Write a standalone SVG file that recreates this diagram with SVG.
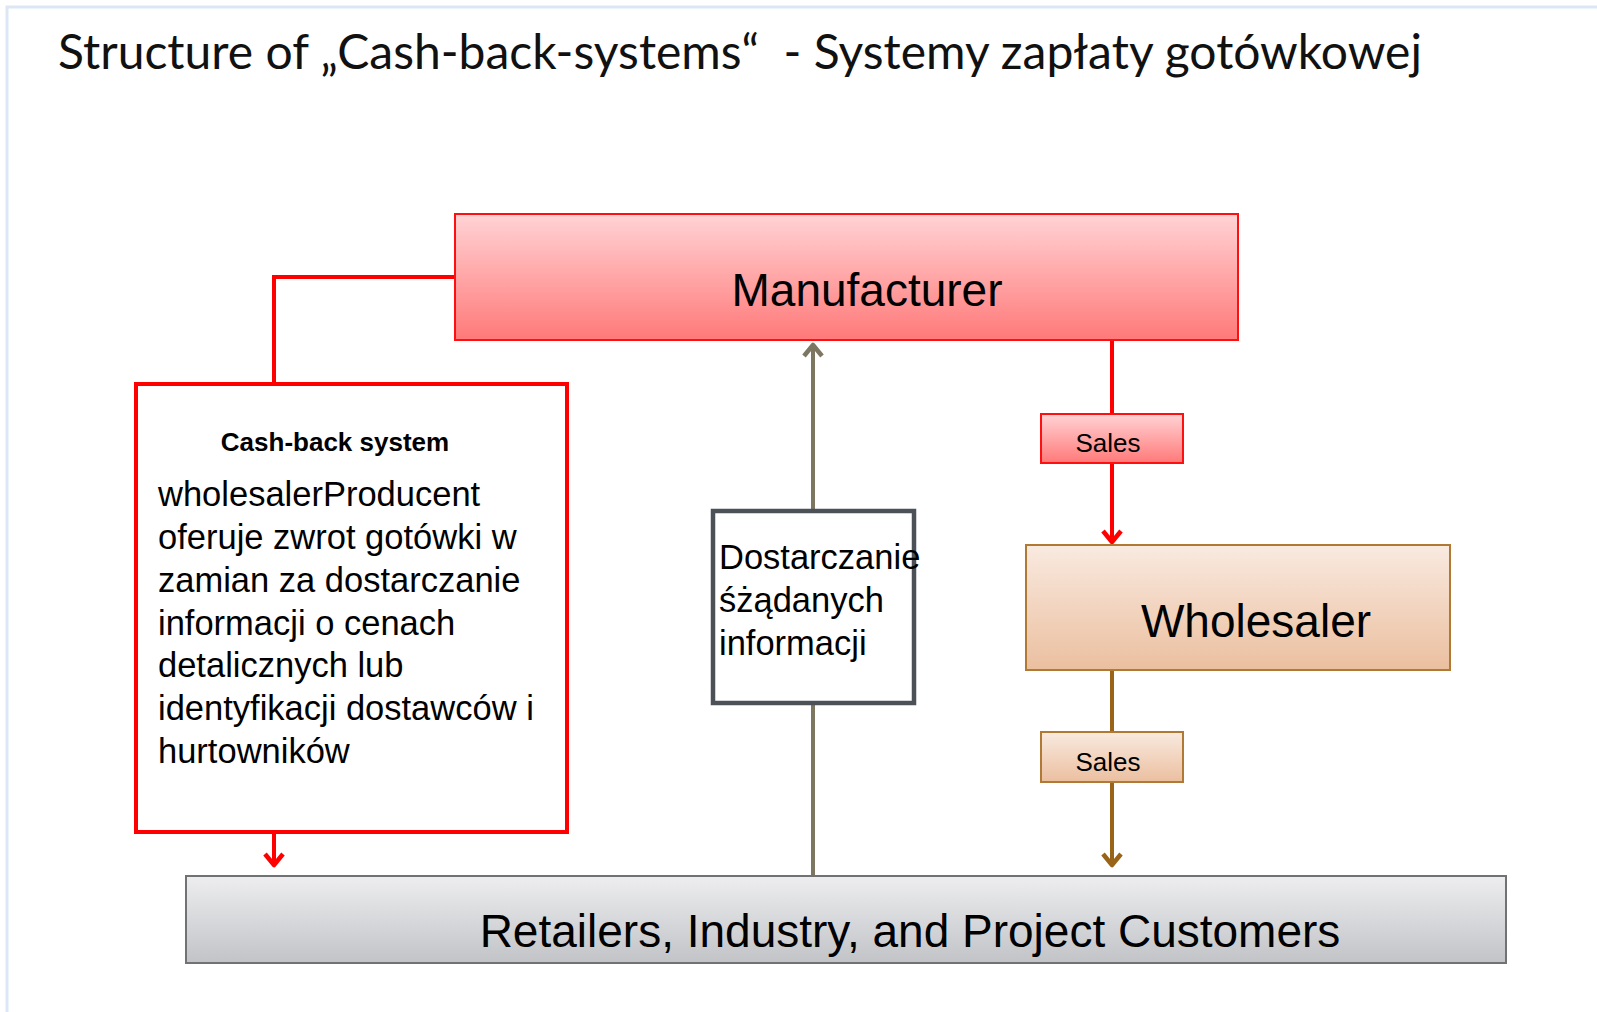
<svg xmlns="http://www.w3.org/2000/svg" width="1597" height="1012" viewBox="0 0 1597 1012">
<style>
.sans{font-family:"Liberation Sans",Arial,sans-serif;fill:#000}
.big{font-size:46px}
.body{font-size:34.5px}
.small{font-size:26px}
.title{font-family:Lato,"Open Sans",sans-serif;font-size:48px;fill:#111}
.red{stroke:#ff0000;stroke-width:4;fill:none}
.brown{stroke:#9a6418;stroke-width:4;fill:none}
.olive{stroke:#7d7660;stroke-width:4;fill:none}
</style>
<defs>
<linearGradient id="gRed" x1="0" y1="0" x2="0" y2="1">
<stop offset="0" stop-color="#ffd3d5"/><stop offset="1" stop-color="#ff7979"/>
</linearGradient>
<linearGradient id="gPeach" x1="0" y1="0" x2="0" y2="1">
<stop offset="0" stop-color="#f9eae0"/><stop offset="1" stop-color="#ebbf9f"/>
</linearGradient>
<linearGradient id="gGray" x1="0" y1="0" x2="0" y2="1">
<stop offset="0" stop-color="#eeeef0"/><stop offset="1" stop-color="#c2c3c7"/>
</linearGradient>
<marker id="aRed" viewBox="0 0 16 22" refX="14" refY="11" markerWidth="16" markerHeight="22" markerUnits="userSpaceOnUse" orient="auto">
<path d="M2,2 L13,11 L2,20" fill="none" stroke="#ff0000" stroke-width="4.5" stroke-linejoin="round"/>
</marker>
<marker id="aBrown" viewBox="0 0 16 22" refX="14" refY="11" markerWidth="16" markerHeight="22" markerUnits="userSpaceOnUse" orient="auto">
<path d="M2,2 L13,11 L2,20" fill="none" stroke="#9a6418" stroke-width="4.5" stroke-linejoin="round"/>
</marker>
<marker id="aOlive" viewBox="0 0 16 22" refX="14" refY="11" markerWidth="16" markerHeight="22" markerUnits="userSpaceOnUse" orient="auto">
<path d="M2,2 L13,11 L2,20" fill="none" stroke="#7d7660" stroke-width="4.5" stroke-linejoin="round"/>
</marker>
</defs>
<rect x="0" y="0" width="1597" height="1012" fill="#ffffff"/>
<rect x="7" y="7" width="1610" height="1030" fill="#ffffff" stroke="#dde6f4" stroke-width="3"/>
<text class="title" x="58" y="69" textLength="1364" xml:space="preserve">Structure of „Cash-back-systems“  - Systemy zapłaty gotówkowej</text>

<g id="connectors">
<path class="red" d="M455,277 H274 V384"/>
<path class="red" d="M274,832 V866" marker-end="url(#aRed)"/>
<path class="olive" d="M813,876 V344" marker-end="url(#aOlive)"/>
<path class="red" d="M1112,340 V414"/>
<path class="red" d="M1112,463 V543" marker-end="url(#aRed)"/>
<path class="brown" d="M1112,670 V732"/>
<path class="brown" d="M1112,782 V866" marker-end="url(#aBrown)"/>
</g>

<g id="manufacturer">
<rect x="455" y="214" width="783" height="126" fill="url(#gRed)" stroke="#ff1010" stroke-width="2"/>
<text class="sans big" x="867" y="306" text-anchor="middle">Manufacturer</text>
</g>

<g id="cashback">
<rect x="136" y="384" width="431" height="448" fill="#ffffff" stroke="#ff0000" stroke-width="4"/>
<text class="sans small" x="335" y="451" text-anchor="middle" font-weight="bold">Cash-back system</text>
<text class="sans body" x="158">
<tspan x="158" y="506">wholesalerProducent</tspan>
<tspan x="158" y="549">oferuje zwrot gotówki w</tspan>
<tspan x="158" y="592">zamian za dostarczanie</tspan>
<tspan x="158" y="635">informacji o cenach</tspan>
<tspan x="158" y="677">detalicznych lub</tspan>
<tspan x="158" y="720">identyfikacji dostawców i</tspan>
<tspan x="158" y="763">hurtowników</tspan>
</text>
</g>

<g id="dostarczanie">
<rect x="713" y="511" width="201" height="192" fill="#ffffff" stroke="#4b5157" stroke-width="4.5"/>
<text class="sans body" x="719">
<tspan x="719" y="569">Dostarczanie</tspan>
<tspan x="719" y="612">śżądanych</tspan>
<tspan x="719" y="655">informacji</tspan>
</text>
</g>

<g id="sales1">
<rect x="1041" y="414" width="142" height="49" fill="url(#gRed)" stroke="#ff1010" stroke-width="2"/>
<text class="sans small" x="1108" y="452" text-anchor="middle">Sales</text>
</g>

<g id="wholesaler">
<rect x="1026" y="545" width="424" height="125" fill="url(#gPeach)" stroke="#b07a35" stroke-width="2"/>
<text class="sans big" x="1256" y="637" text-anchor="middle">Wholesaler</text>
</g>

<g id="sales2">
<rect x="1041" y="732" width="142" height="50" fill="url(#gPeach)" stroke="#b07a35" stroke-width="2"/>
<text class="sans small" x="1108" y="771" text-anchor="middle">Sales</text>
</g>

<g id="retailers">
<rect x="186" y="876" width="1320" height="87" fill="url(#gGray)" stroke="#707274" stroke-width="2"/>
<text class="sans big" x="910" y="947" text-anchor="middle">Retailers, Industry, and Project Customers</text>
</g>
</svg>
